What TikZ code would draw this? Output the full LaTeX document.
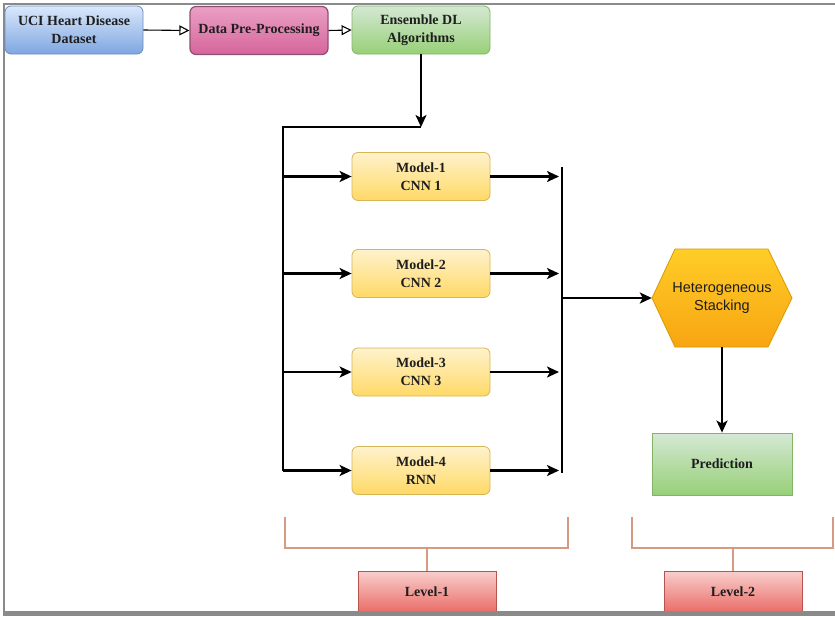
\documentclass[tikz,border=0pt]{standalone}
\usepackage{fontspec}
\setmainfont{Liberation Serif}
\newfontfamily\hexfont{Liberation Sans}
\usetikzlibrary{arrows.meta}

\definecolor{txt}{HTML}{1E1E1E}
\definecolor{blueTop}{HTML}{DAE8FC}\definecolor{blueBot}{HTML}{7EA6E0}\definecolor{blueLine}{HTML}{6C8EBF}
\definecolor{pinkTop}{HTML}{EAA0C5}\definecolor{pinkBot}{HTML}{D6659B}\definecolor{pinkLine}{HTML}{8F4F72}
\definecolor{greenTop}{HTML}{D5E8D4}\definecolor{greenBot}{HTML}{97D077}\definecolor{greenLine}{HTML}{82B366}
\definecolor{yelTop}{HTML}{FFF2CC}\definecolor{yelBot}{HTML}{FFD966}\definecolor{yelLine}{HTML}{D6B656}
\definecolor{orTop}{HTML}{FFCD28}\definecolor{orBot}{HTML}{F7A511}\definecolor{orLine}{HTML}{D79B00}
\definecolor{redTop}{HTML}{F8CECC}\definecolor{redBot}{HTML}{EA6B66}\definecolor{redLine}{HTML}{B85450}
\definecolor{bracketCol}{HTML}{D69A82}
\definecolor{frameCol}{HTML}{8A8A8A}

\tikzset{
  box/.style={minimum width=138pt, minimum height=48pt, align=center, inner sep=2pt,
    text=txt, font=\fontsize{14}{18}\selectfont\bfseries, line width=0.8pt},
  rbox/.style={box, rounded corners=6pt},
  bluebox/.style={rbox, draw=blueLine, top color=blueTop, bottom color=blueBot},
  pinkbox/.style={rbox, draw=pinkLine, line width=1.2pt, top color=pinkTop, bottom color=pinkBot},
  greenbox/.style={rbox, draw=greenLine, top color=greenTop, bottom color=greenBot},
  modelbox/.style={rbox, draw=yelLine, top color=yelTop, bottom color=yelBot},
  predbox/.style={box, minimum width=140pt, minimum height=62pt, draw=greenLine, top color=greenTop, bottom color=greenBot},
  levelbox/.style={box, minimum height=42pt, draw=redLine, top color=redTop, bottom color=redBot},
  openarrow/.style={line width=1.1pt, -{Triangle[open, length=10pt, width=10pt, fill=white]}},
  flow/.style={line width=2.2pt, -{Stealth[length=12pt, width=11pt, inset=3pt]}},
  wire/.style={line width=2.2pt},
  bracket/.style={draw=bracketCol, line width=1.6pt},
}

\begin{document}
\begin{tikzpicture}[x=1pt, y=-1pt]
  \useasboundingbox (0,0) rectangle (835,616);
  \fill[white] (0,0) rectangle (835,616);

  % page frame
  \draw[frameCol, line width=2pt] (835,3.5) -- (3.5,3.5) -- (3.5,612);

  % top row
  \node[bluebox]  (uci)  at (74,30)   {UCI Heart Disease\\Dataset};
  \node[pinkbox]  (pre)  at (259,30.5) {Data Pre-Processing};
  \node[greenbox] (ens)  at (421,30)  {Ensemble DL\\Algorithms};
  \draw[openarrow] (uci.east) -- (pre.west);
  \draw[openarrow] (pre.east) -- (ens.west);

  % level-1 models
  \node[modelbox] (m1) at (421,176.5) {Model-1\\CNN 1};
  \node[modelbox] (m2) at (421,273.5) {Model-2\\CNN 2};
  \node[modelbox] (m3) at (421,372)   {Model-3\\CNN 3};
  \node[modelbox] (m4) at (421,470.5) {Model-4\\RNN};

  % distribution from the ensemble block
  \coordinate (split) at (421,127);
  \coordinate (trunkTop) at (283,127);
  \coordinate (trunkBot) at (283,470.5);
  \draw[flow] (ens.south) -- (split);
  \draw[wire, line join=miter] (split) -- (trunkTop) -- (trunkBot);
  \foreach \m in {m1,m2,m3,m4}
    \draw[flow] (\m.west -| trunkTop) -- (\m.west);

  % collector bar
  \coordinate (barTop) at (562,167);
  \coordinate (barBot) at (562,473);
  \coordinate (barOut) at (562,298);
  \draw[wire] (barTop) -- (barBot);
  \foreach \m in {m1,m2,m3,m4}
    \draw[flow, shorten >=3pt] (\m.east) -- (\m.east -| barTop);

  % level-2: heterogeneous stacking
  \path[draw=orLine, line width=0.8pt, top color=orTop, bottom color=orBot]
    (652,298) -- (675,249) -- (768,249) -- (792,298) -- (768,347) -- (675,347) -- cycle;
  \node[minimum width=140pt, minimum height=98pt, align=center, text=txt,
        font=\hexfont\fontsize{14.5}{18}\selectfont] (hex) at (722,298) {Heterogeneous\\Stacking};
  \draw[flow] (barOut) -- (hex.west);

  \node[predbox] (pred) at (722,464) {Prediction};
  \draw[flow] (hex.south) -- (pred.north);

  % level labels
  \node[levelbox] (lv1) at (427,592) {Level-1};
  \node[levelbox] (lv2) at (733,592) {Level-2};
  \coordinate (b1) at (427,548);
  \coordinate (b2) at (733,548);
  \draw[bracket] (285,517) -- (285,548) -- (568,548) -- (568,517);
  \draw[bracket] (b1) -- (lv1.north);
  \draw[bracket] (632,517) -- (632,548) -- (833,548) -- (833,517);
  \draw[bracket] (b2) -- (lv2.north);

  % bottom shadow edge, over the level boxes
  \fill[frameCol] (3,611) rectangle (835,616);
\end{tikzpicture}
\end{document}
